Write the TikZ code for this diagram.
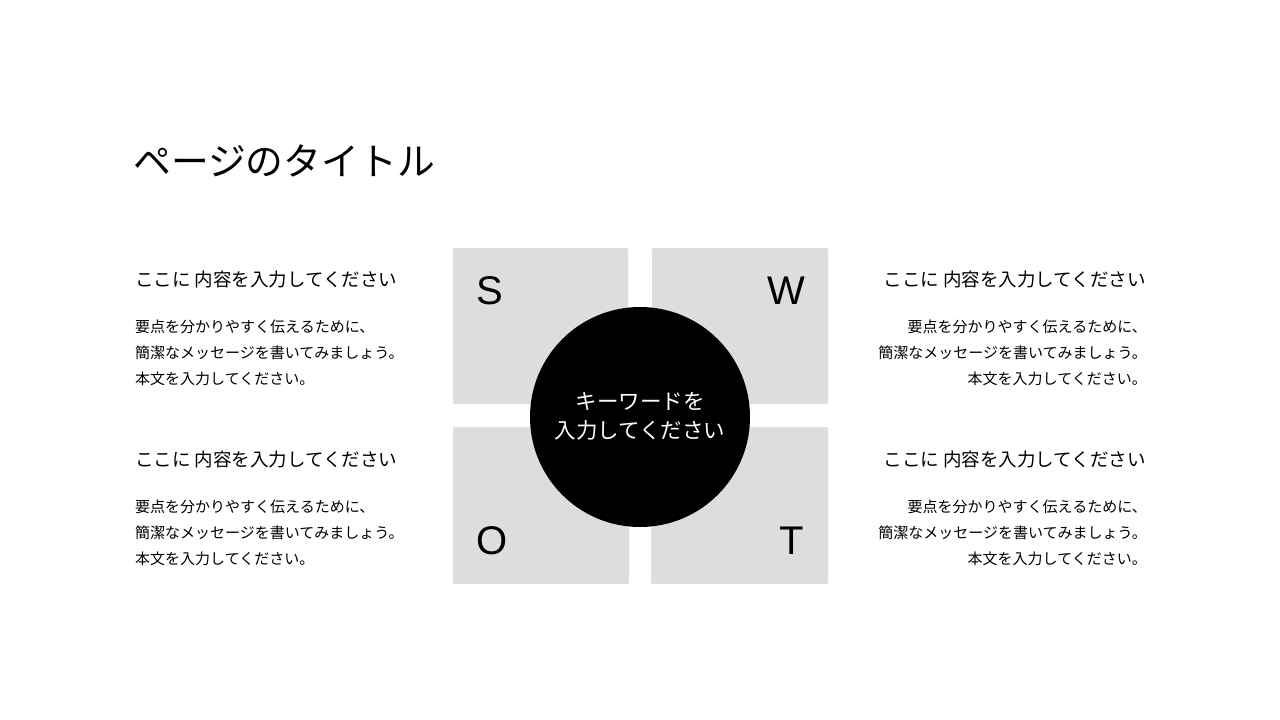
\documentclass[tikz,border=0pt]{standalone}
\usepackage{fontspec}
\setmainfont{Noto Sans CJK JP}
\newfontfamily\letterfont{Liberation Sans}
\definecolor{boxgray}{HTML}{DDDDDD}
\tikzset{
  quad/.style={fill=boxgray, rounded corners=2pt},
  letter/.style={font=\letterfont\fontsize{40}{40}\selectfont, inner sep=0pt},
  heading/.style={font=\fontsize{18.5}{18.5}\selectfont, inner sep=0pt},
  bodyL/.style={font=\fontsize{15}{26}\selectfont, inner sep=0pt, align=left},
  bodyR/.style={font=\fontsize{15}{26}\selectfont, inner sep=0pt, align=right},
}
\begin{document}
\begin{tikzpicture}[x=1pt,y=-1pt]
\useasboundingbox[fill=white] (0,0) rectangle (1280,720);
% title
\node[anchor=west, inner sep=0pt, font=\fontsize{37.8}{37.8}\selectfont] (title) at (133,161) {ページのタイトル};
% quadrant boxes
\path[quad] (453,248) rectangle (628,404);
\path[quad] (652,248) rectangle (828,404);
\path[quad] (453,427) rectangle (629,584);
\path[quad] (651,427) rectangle (828,584);
\node[letter] (S) at (490,291) {S};
\node[letter] (W) at (786,291) {W};
\node[letter] (O) at (492,541) {O};
\node[letter] (T) at (792,541) {T};
% centre circle
\node[circle, fill=black, minimum size=220pt, inner sep=0pt] (key) at (640,417) {};
\node[text=white, align=center, font=\fontsize{21.5}{29}\selectfont, inner sep=0pt] (keytext) at (640,416) {キーワードを\\入力してください};
% left texts
\node[heading, anchor=west] (h1) at (135,280) {ここに 内容を入力してください};
\node[bodyL, anchor=north west] (b1) at (135,320) {要点を分かりやすく伝えるために、\\簡潔なメッセージを書いてみましょう。\\本文を入力してください。};
\node[heading, anchor=west] (h3) at (135,460) {ここに 内容を入力してください};
\node[bodyL, anchor=north west] (b3) at (135,500) {要点を分かりやすく伝えるために、\\簡潔なメッセージを書いてみましょう。\\本文を入力してください。};
% right texts
\node[heading, anchor=east] (h2) at (1146,280) {ここに 内容を入力してください};
\node[bodyR, anchor=north east] (b2) at (1147,320) {要点を分かりやすく伝えるために、\\簡潔なメッセージを書いてみましょう。\\本文を入力してください。};
\node[heading, anchor=east] (h4) at (1146,460) {ここに 内容を入力してください};
\node[bodyR, anchor=north east] (b4) at (1147,500) {要点を分かりやすく伝えるために、\\簡潔なメッセージを書いてみましょう。\\本文を入力してください。};
\end{tikzpicture}
\end{document}
